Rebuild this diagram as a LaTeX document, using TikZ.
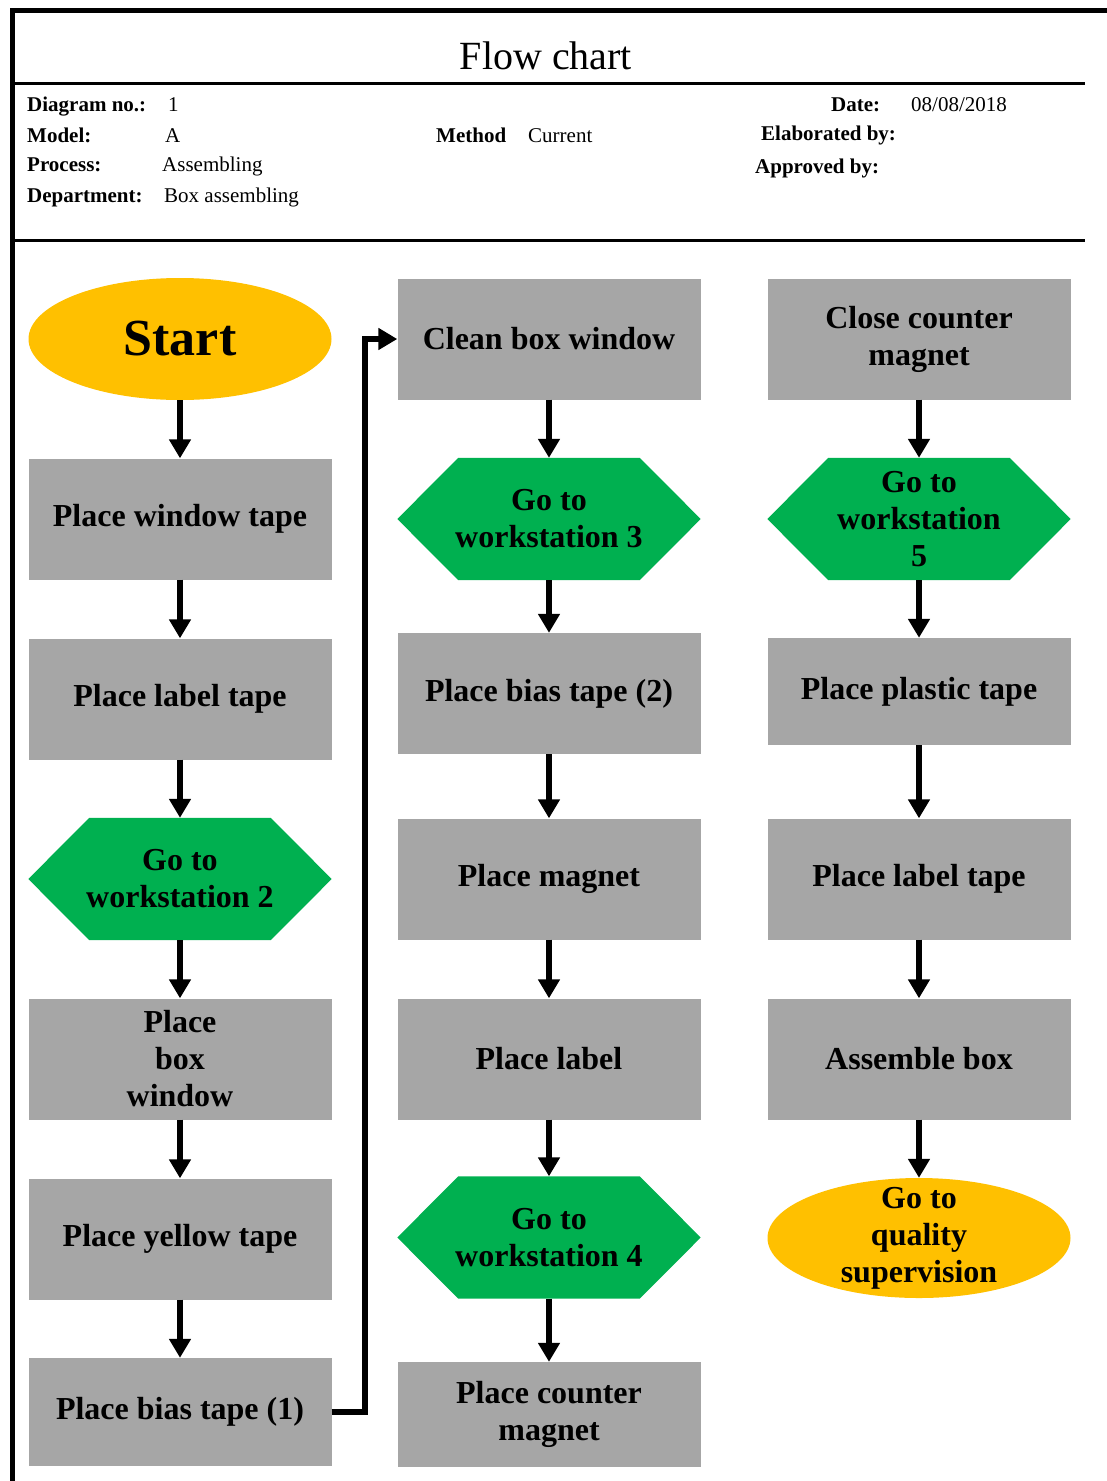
\documentclass[tikz,border=0pt]{standalone}
\usepackage{fontspec}
\setmainfont{Liberation Serif}
\usetikzlibrary{shapes.geometric,arrows.meta,backgrounds}
\definecolor{boxgray}{HTML}{A6A6A6}
\definecolor{wsgreen}{HTML}{00B050}
\definecolor{termgold}{HTML}{FFC000}

\begin{document}
\begin{tikzpicture}[x=1pt,y=-1pt,>={Triangle[width=21pt,length=19pt]}]
\tikzstyle{block} = [rectangle, fill=boxgray, minimum width=303pt, minimum height=121pt, inner sep=0pt, align=center, font=\bfseries\fontsize{32}{37}\selectfont]
\tikzstyle{station} = [rectangle, minimum width=303pt, minimum height=122pt, inner sep=0pt, align=center, font=\bfseries\fontsize{32}{37}\selectfont]
\tikzstyle{terminal} = [ellipse, fill=termgold, minimum width=303pt, minimum height=122pt, inner sep=0pt, align=center, font=\bfseries\fontsize{32}{37}\selectfont]
\tikzstyle{flow} = [->, line width=6pt]
\tikzstyle{head} = [anchor=base west, inner sep=0pt, font=\bfseries\fontsize{21}{24}\selectfont]
\tikzstyle{value} = [anchor=base west, inner sep=0pt, font=\fontsize{21}{24}\selectfont]

\useasboundingbox (0,0) rectangle (1107,1481);

% frame and header
\draw[line width=5pt] (12,1481) -- (12,10) -- (1107,10);
\draw[line width=3pt] (15,83) -- (1085,83);
\draw[line width=3pt] (15,240) -- (1085,240);
\node[anchor=base, font=\fontsize{40}{44}\selectfont] (title) at (546,69) {Flow chart};

\node[head] (diagno) at (27,111) {Diagram no.:};
\node[value] (diagnoval) at (168,111) {1};
\node[head] (model) at (27,142) {Model:};
\node[value] (modelval) at (165,142) {A};
\node[head] (process) at (27,171) {Process:};
\node[value] (processval) at (162,171) {Assembling};
\node[head] (dept) at (27,202) {Department:};
\node[value] (deptval) at (164,202) {Box assembling};
\node[head] (method) at (436,142) {Method};
\node[value] (methodval) at (528,142) {Current};
\node[head] (date) at (831,111) {Date:};
\node[value] (dateval) at (911,111) {08/08/2018};
\node[head] (elab) at (761,140) {Elaborated by:};
\node[head] (appr) at (755,173) {Approved by:};

% first column
\node[terminal, font=\bfseries\fontsize{52}{60}\selectfont] (start) at (180,339) {Start};
\node[block] (windowtape) at (180,519) {Place window tape};
\node[block] (labeltape) at (180,699) {Place label tape};
\node[station] (ws2) at (180,879) {Go to\\workstation 2};
\node[block] (boxwindow) at (180,1059) {Place\\box\\window};
\node[block] (yellowtape) at (180,1239) {Place yellow tape};
\node[block, minimum height=108pt] (biastape1) at (180,1412) {Place bias tape (1)};

% second column
\node[block] (cleanwindow) at (549,339) {Clean box window};
\node[station] (ws3) at (549,519) {Go to\\workstation 3};
\node[block] (biastape2) at (549,693.5) {Place bias tape (2)};
\node[block] (magnet) at (549,879) {Place magnet};
\node[block] (label) at (549,1059) {Place label};
\node[station] (ws4) at (549,1237.5) {Go to\\workstation 4};
\node[block, minimum height=105pt] (countermagnet) at (549,1414.5) {Place counter\\magnet};

% third column
\node[block] (closecounter) at (919,339) {Close counter\\magnet};
\node[station] (ws5) at (919,519) {Go to\\workstation\\5};
\node[block, minimum height=107pt] (plastictape) at (919,691.5) {Place plastic tape};
\node[block] (labeltape2) at (919,879) {Place label tape};
\node[block] (assemble) at (919,1059) {Assemble box};
\node[terminal, minimum height=120pt, label={[align=center, font=\bfseries\fontsize{32}{37}\selectfont]center:{Go to\\quality\\supervision}}] (quality) at (919,1238) {};

% hexagons behind the station texts
\begin{scope}[on background layer]
\foreach \s in {ws2,ws3,ws4,ws5}
  \fill[wsgreen] (\s.west) -- ([xshift=61pt]\s.north west) -- ([xshift=-61pt]\s.north east)
    -- (\s.east) -- ([xshift=-61pt]\s.south east) -- ([xshift=61pt]\s.south west) -- cycle;
\end{scope}

% connectors
\foreach \a/\b in {start/windowtape, windowtape/labeltape, labeltape/ws2, ws2/boxwindow, boxwindow/yellowtape, yellowtape/biastape1,
  cleanwindow/ws3, ws3/biastape2, biastape2/magnet, magnet/label, label/ws4, ws4/countermagnet,
  closecounter/ws5, ws5/plastictape, plastictape/labeltape2, labeltape2/assemble, assemble/quality}
  \draw[flow] (\a.south) -- (\b.north);
\coordinate (jog) at (365,1412);
\draw[flow] (biastape1.east) -- (jog) |- (cleanwindow.west);

\end{tikzpicture}
\end{document}
